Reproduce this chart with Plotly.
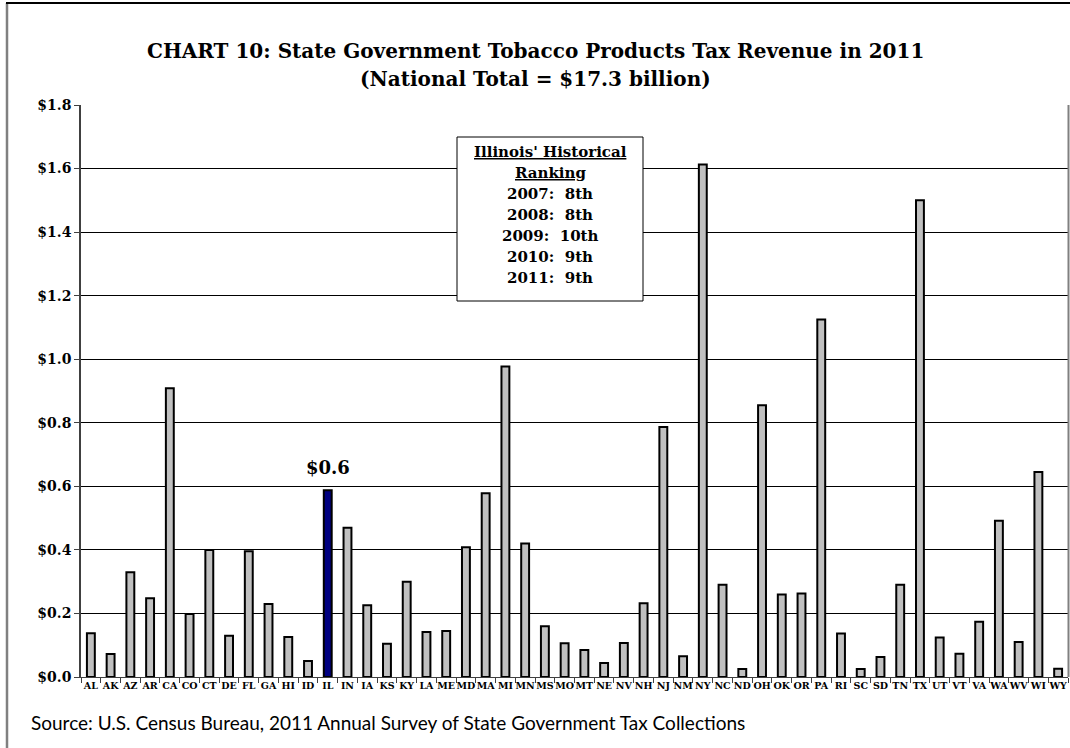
import plotly.graph_objects as go

states = ["AL","AK","AZ","AR","CA","CO","CT","DE","FL","GA","HI","ID","IL","IN","IA","KS","KY","LA","ME","MD",
          "MA","MI","MN","MS","MO","MT","NE","NV","NH","NJ","NM","NY","NC","ND","OH","OK","OR","PA","RI","SC",
          "SD","TN","TX","UT","VT","VA","WA","WV","WI","WY"]
revenue = [0.138,0.072,0.330,0.248,0.909,0.198,0.400,0.130,0.396,0.230,0.126,0.050,0.588,0.470,0.226,0.105,0.300,0.142,0.145,0.408,
           0.578,0.977,0.420,0.160,0.106,0.085,0.044,0.107,0.232,0.787,0.065,1.613,0.290,0.025,0.855,0.260,0.263,1.125,0.137,0.025,
           0.063,0.290,1.500,0.124,0.073,0.174,0.492,0.110,0.645,0.026]
highlight_state = "IL"
highlight_label = "$0.6"
box_title_lines = ["Illinois' Historical", "Ranking"]
ranking_lines = ["2007:  8th", "2008:  8th", "2009:  10th", "2010:  9th", "2011:  9th"]

colors = ["#000080" if s == highlight_state else "#C0C0C0" for s in states]

fig = go.Figure(go.Bar(
    x=states, y=revenue,
    marker=dict(color=colors, line=dict(color="black", width=2)),
))

W, H = 1070, 748
PL, PR, PT, PB = 81, 1068, 105, 677
pw = PR - PL
ph = PB - PT

def px2x(px):
    return (px - PL) / pw

def px2y(py):
    return (PB - py) / ph

serif = "DejaVu Serif"

fig.update_layout(
    width=W, height=H,
    margin=dict(l=PL, r=W - PR, t=PT, b=H - PB),
    paper_bgcolor="white", plot_bgcolor="white",
    showlegend=False,
    bargap=0.6,
    xaxis=dict(
        type="category",
        showgrid=False,
        showline=True, linecolor="#404040", linewidth=1,
        ticks="outside", tickson="boundaries", ticklen=5, tickcolor="#404040",
        tickfont=dict(family=serif, size=9.5, color="black", weight="bold"),
        tickangle=0,
    ),
    yaxis=dict(
        range=[0, 1.8], dtick=0.2, tick0=0,
        tickprefix="$", tickformat=".1f",
        showgrid=True, gridcolor="#000000", gridwidth=1,
        showline=True, linecolor="#404040", linewidth=1.5,
        ticks="outside", ticklen=5, tickcolor="#404040",
        tickfont=dict(family=serif, size=14, color="black", weight="bold"),
        zeroline=False,
    ),
)

# Title lines
title_lines = ["CHART 10: State Government Tobacco Products Tax Revenue in 2011",
               "(National Total = $17.3 billion)"]
for txt, yc in zip(title_lines, [51, 79]):
    fig.add_annotation(xref="paper", yref="paper", x=px2x(535), y=px2y(yc),
                       xanchor="center", yanchor="middle", showarrow=False,
                       text="<b>" + txt + "</b>",
                       font=dict(family=serif, size=20, color="black"))

# Chart-area border (left gray, top black, right gray)
fig.add_shape(type="line", xref="paper", yref="paper",
              x0=px2x(7), x1=px2x(7), y0=px2y(760), y1=px2y(3),
              line=dict(color="#808080", width=2.5), layer="above")
fig.add_shape(type="line", xref="paper", yref="paper",
              x0=px2x(6), x1=px2x(1070), y0=px2y(3), y1=px2y(3),
              line=dict(color="#000000", width=2), layer="above")
fig.add_shape(type="line", xref="paper", yref="paper",
              x0=px2x(1068.5), x1=px2x(1068.5), y0=px2y(677), y1=px2y(105),
              line=dict(color="#808080", width=2), layer="above")

# Ranking box
fig.add_shape(type="rect", xref="paper", yref="paper",
              x0=px2x(457), x1=px2x(643), y0=px2y(301), y1=px2y(137),
              line=dict(color="black", width=1), fillcolor="white", layer="above")
box_lines = ["<u>" + t + "</u>" for t in box_title_lines] + ranking_lines
box_ys = [152, 173, 194, 215, 236, 257, 278]
for txt, yc in zip(box_lines, box_ys):
    fig.add_annotation(xref="paper", yref="paper", x=px2x(550), y=px2y(yc),
                       xanchor="center", yanchor="middle", showarrow=False,
                       text="<b>" + txt + "</b>",
                       font=dict(family=serif, size=15, color="black"))

# Highlight label
il_idx = states.index(highlight_state)
fig.add_annotation(x=highlight_state, y=revenue[il_idx], xref="x", yref="y",
                   yanchor="bottom", yshift=10, showarrow=False,
                   text="<b>" + highlight_label + "</b>",
                   font=dict(family=serif, size=18, color="black"))

# Source
fig.add_annotation(xref="paper", yref="paper", x=px2x(29), y=px2y(722),
                   xanchor="left", yanchor="middle", showarrow=False,
                   text="Source: U.S. Census Bureau, 2011 Annual Survey of State Government Tax Collections",
                   font=dict(family="Lato", size=19, color="black"))

fig.write_html("out.html", config={"displayModeBar": False},
               post_script="document.body.style.margin='0px';")
